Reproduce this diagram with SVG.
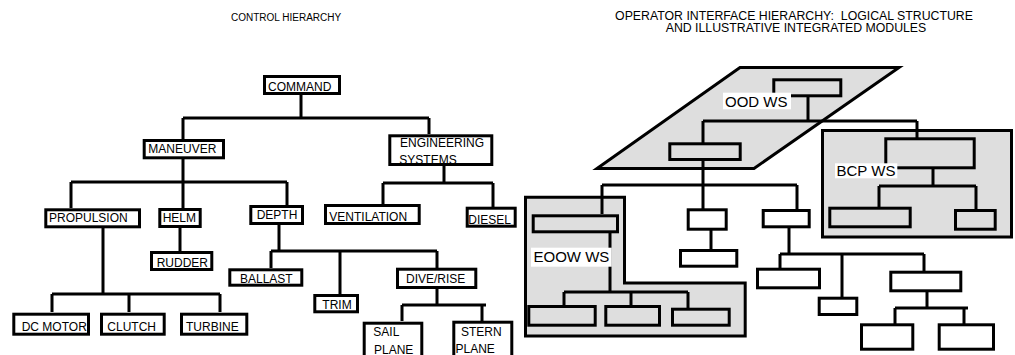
<svg xmlns="http://www.w3.org/2000/svg" width="1015" height="355" viewBox="0 0 1015 355">
<style>
text{font-family:"Liberation Sans",Arial,sans-serif;fill:#000}
.t{font-size:12px}
.title{font-size:10px}
.title2{font-size:12.3px;white-space:pre}
.ws{font-size:15px}
.box{fill:#fff;stroke:#000;stroke-width:3}
.rb{fill:none;stroke:#000;stroke-width:3}
.area{fill:#dedede;stroke:#000;stroke-width:3}
.conn path{fill:none;stroke:#000;stroke-width:3}
.lbl{fill:#fff}
</style>
<g id="titles">
<text class="title" x="231" y="20.5">CONTROL HIERARCHY</text>
<text class="title2" x="794" y="19.5" text-anchor="middle" xml:space="preserve">OPERATOR INTERFACE HIERARCHY:  LOGICAL STRUCTURE</text>
<text class="title2" x="796" y="32.3" text-anchor="middle">AND ILLUSTRATIVE INTEGRATED MODULES</text>
</g>
<g id="workstation-areas">
<polygon id="ood-area" class="area" stroke-width="2.6" points="740,67.5 899,67.5 754,168.5 597,168.5"/>
<rect id="bcp-area" class="area" x="822.5" y="130.5" width="189" height="106.5"/>
<path id="eoow-area" class="area" d="M525.5 197.2 H624.5 V283 H745.2 V336 H525.5 Z"/>
</g>
<g id="connectors" class="conn">
<path d="M301 95 V118 M183 118 H429 M183 118 V139 M429 118 V134"/>
<path d="M183 159 V182 M71 182 H287 M71 182 V208 M183 182 V208 M287 182 V205"/>
<path d="M180 228 V251"/>
<path d="M103 228 V294 M52 294 H220 M52 294 V312 M129 294 V312 M220 294 V312"/>
<path d="M279 225 V251 M271 251 H437 M271 251 V268 M340 251 V294 M437 251 V268"/>
<path d="M437 289 V305 M402 305 H486 M402 305 V321 M482 305 V321"/>
<path d="M444 166 V183 M383 183 H493 M383 183 V204 M493 183 V207"/>
<path d="M808 97 V121 M703 121 H917 M917 121 V138 M703 121 V143"/>
<path d="M703 161 V185 M602 185 H797 M602 185 V214 M703 185 V209 M797 185 V210"/>
<path d="M933 169 V186 M879 186 H976 M879 186 V208 M976 186 V210"/>
<path d="M610 233 V292 M564 292 H688 M564 292 V306 M631 292 V306 M688 292 V309"/>
<path d="M711 230 V252"/>
<path d="M789 228 V254 M780 254 H924 M780 254 V270 M842 254 V298 M924 254 V272"/>
<path d="M927 292 V308 M895 308 H968 M895 308 V324 M964 308 V324"/>
</g>
<g id="command"><rect class="box" x="264.5" y="76.5" width="75" height="17"/><text class="t" x="268" y="91">COMMAND</text></g>
<g id="maneuver"><rect class="box" x="144.2" y="140.5" width="79.3" height="17.3"/><text class="t" x="148.3" y="153">MANEUVER</text></g>
<g id="propulsion"><rect class="box" x="45.8" y="209.8" width="93.7" height="17"/><text class="t" x="49" y="221.7">PROPULSION</text></g>
<g id="helm"><rect class="box" x="159.8" y="209.5" width="40.4" height="17"/><text class="t" x="162.7" y="221.7">HELM</text></g>
<g id="depth"><rect class="box" x="250.8" y="206.5" width="51.7" height="17"/><text class="t" x="256.7" y="219">DEPTH</text></g>
<g id="rudder"><rect class="box" x="151.5" y="252.5" width="60.3" height="17"/><text class="t" x="156.7" y="266.7">RUDDER</text></g>
<g id="dc-motor"><rect class="box" x="13.8" y="314.2" width="74.7" height="20"/><text class="t" x="21.7" y="331">DC MOTOR</text></g>
<g id="clutch"><rect class="box" x="101.5" y="314.2" width="62.7" height="20"/><text class="t" x="107.3" y="331">CLUTCH</text></g>
<g id="turbine"><rect class="box" x="181.5" y="314.2" width="65.3" height="20"/><text class="t" x="186" y="331">TURBINE</text></g>
<g id="ballast"><rect class="box" x="229.8" y="269.8" width="72" height="15.4"/><text class="t" x="240" y="283.3">BALLAST</text></g>
<g id="trim"><rect class="box" x="314.8" y="295.5" width="42.7" height="16.3"/><text class="t" x="322.3" y="309.3">TRIM</text></g>
<g id="dive-rise"><rect class="box" x="397.5" y="269.2" width="78.3" height="18.3"/><text class="t" x="406" y="283.3">DIVE/RISE</text></g>
<g id="sail-plane"><rect class="box" x="364.2" y="323.2" width="57.6" height="50"/><text class="t" x="373.3" y="336">SAIL</text><text class="t" x="374" y="353.5">PLANE</text></g>
<g id="stern-plane"><rect class="box" x="453.8" y="322.2" width="58" height="50"/><text class="t" x="461" y="336">STERN</text><text class="t" x="455.5" y="352.5">PLANE</text></g>
<g id="engineering-systems"><rect class="box" x="389.8" y="135.8" width="102" height="28.7"/><text class="t" x="400" y="146.7">ENGINEERING</text><text class="t" x="399.3" y="164.3">SYSTEMS</text></g>
<g id="ventilation"><rect class="box" x="325.5" y="205.5" width="93.7" height="18"/><text class="t" x="329.3" y="220.7">VENTILATION</text></g>
<g id="diesel"><rect class="box" x="467.2" y="208.2" width="48" height="18"/><text class="t" x="468.3" y="224">DIESEL</text></g>
<g id="ood-top"><rect class="rb" x="773.8" y="79.8" width="67" height="16"/></g>
<g id="ood-second"><rect class="rb" x="669.8" y="143.8" width="70.4" height="15.7"/></g>
<g id="bcp-top"><rect class="rb" x="885.8" y="138.8" width="88.4" height="29"/></g>
<g id="bcp-left"><rect class="rb" x="829.8" y="208.2" width="80.4" height="18.6"/></g>
<g id="bcp-right"><rect class="rb" x="955.5" y="210.5" width="39.7" height="18.7"/></g>
<g id="eoow-top"><rect class="rb" x="533.2" y="215.8" width="84.3" height="16"/></g>
<g id="eoow-1"><rect class="rb" x="528.8" y="306.5" width="66.4" height="18.7"/></g>
<g id="eoow-2"><rect class="rb" x="605.8" y="306.5" width="53.7" height="18.7"/></g>
<g id="eoow-3"><rect class="rb" x="672.5" y="309.2" width="56.7" height="16"/></g>
<g id="mid-1"><rect class="box" x="688.2" y="209.8" width="38" height="19.4"/></g>
<g id="mid-2"><rect class="box" x="680.5" y="250.5" width="56.3" height="15.7"/></g>
<g id="right-1"><rect class="box" x="763.2" y="210.5" width="46" height="16.3"/></g>
<g id="right-a"><rect class="box" x="757.5" y="269.2" width="62" height="18.6"/></g>
<g id="right-b"><rect class="box" x="819.2" y="298.2" width="37.6" height="16.3"/></g>
<g id="right-c"><rect class="box" x="890.8" y="272.2" width="70" height="18.6"/></g>
<g id="right-d"><rect class="box" x="861.5" y="324.8" width="51.3" height="24.4"/></g>
<g id="right-e"><rect class="box" x="939.2" y="324.8" width="54.3" height="24.4"/></g>
<g id="ood-ws-label"><rect class="lbl" x="723" y="92.7" width="68" height="16.6"/><text class="ws" x="725" y="106.5">OOD WS</text></g>
<g id="bcp-ws-label"><rect class="lbl" x="835" y="163.3" width="62.3" height="15"/><text class="ws" x="836.5" y="175.5">BCP WS</text></g>
<g id="eoow-ws-label"><rect class="lbl" x="531" y="247.7" width="80.7" height="19"/><text class="ws" x="533.5" y="261.5">EOOW WS</text></g>
</svg>
